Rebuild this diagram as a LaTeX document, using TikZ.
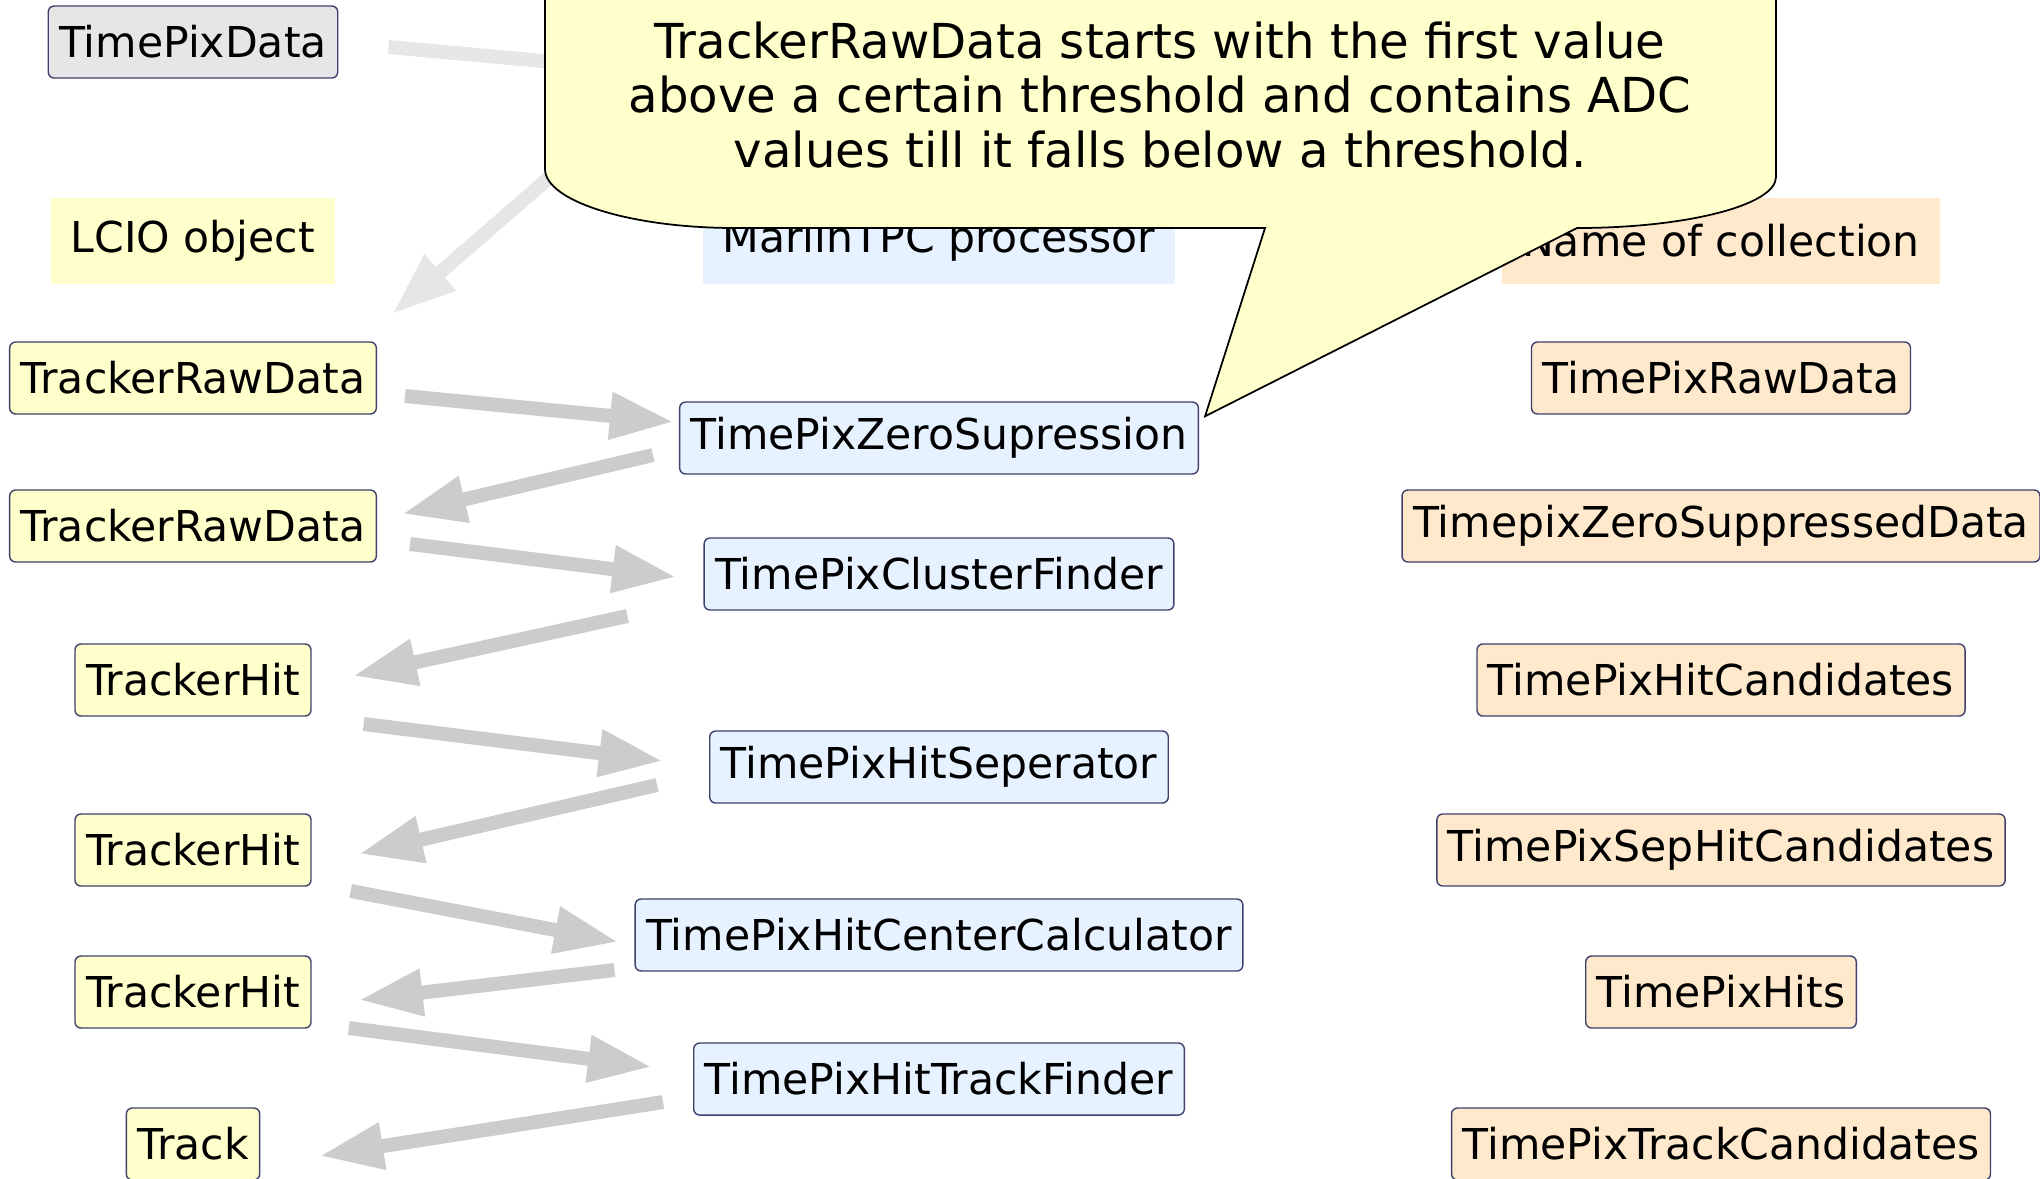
\documentclass[tikz,border=0pt]{standalone}
\usepackage{fontspec}
\setmainfont{DejaVu Sans}
\usepackage{tikz}
\usetikzlibrary{arrows.meta}
\definecolor{lcioyellow}{RGB}{255,255,204}
\definecolor{procblue}{RGB}{230,242,255}
\definecolor{collorange}{RGB}{255,233,204}
\definecolor{datagray}{RGB}{230,230,230}
\definecolor{boxline}{RGB}{64,64,110}
\definecolor{flowgray}{RGB}{204,204,204}
\tikzstyle{flow}=[draw=flowgray, line width=0.14cm, -{Triangle[length=0.64cm,width=0.44cm]}]
\newcommand{\boxfont}{\fontsize{12.1}{14}\selectfont}

\begin{document}
\begin{tikzpicture}[x=0.01cm, y=-0.01cm]
            \tikzset {
                basic node/.style={
                        draw=boxline,
                        line width=0.4pt,
                        font=\boxfont,
                        rounded corners=1.7pt,
                        inner xsep=0.11cm,
                        minimum height=0.72cm,
                        fill=lcioyellow
                    },
                legend node/.style={
                        font=\boxfont,
                        inner xsep=0.2cm,
                        minimum height=0.86cm
                    }}

            \useasboundingbox (0,0) rectangle (2040,1178);
            \clip (0,0) rectangle (2040,1178);

            % legend
            \node[legend node, fill=lcioyellow] (lcio) at (193,241) {LCIO object};
            \node[legend node, fill=procblue] (marlin) at (939,241) {MarlinTPC processor};
            \node[legend node, fill=collorange] (colname) at (1721,241) {Name of collection};

            % LCIO objects
            \node[basic node, fill=datagray] (tpdata) at (193,42) {TimePixData};
            \node[basic node] (trd1) at (193,378) {TrackerRawData};
            \node[basic node] (trd2) at (193,526) {TrackerRawData};
            \node[basic node] (hit1) at (193,680) {TrackerHit};
            \node[basic node] (hit2) at (193,850) {TrackerHit};
            \node[basic node] (hit3) at (193,992) {TrackerHit};
            \node[basic node] (track) at (193,1144) {Track};

            % processors
            \node[basic node, fill=procblue] (zerosup) at (939,438) {TimePixZeroSupression};
            \node[basic node, fill=procblue] (cluster) at (939,574) {TimePixClusterFinder};
            \node[basic node, fill=procblue] (hitsep) at (939,767) {TimePixHitSeperator};
            \node[basic node, fill=procblue] (hitcenter) at (939,935) {TimePixHitCenterCalculator};
            \node[basic node, fill=procblue] (trackfinder) at (939,1079) {TimePixHitTrackFinder};

            % collections
            \node[basic node, fill=collorange] (rawcol) at (1721,378) {TimePixRawData};
            \node[basic node, fill=collorange] (zerocol) at (1721,526) {TimepixZeroSuppressedData};
            \node[basic node, fill=collorange] (hitcandcol) at (1721,680) {TimePixHitCandidates};
            \node[basic node, fill=collorange] (sepcol) at (1721,850) {TimePixSepHitCandidates};
            \node[basic node, fill=collorange] (hitscol) at (1721,992) {TimePixHits};
            \node[basic node, fill=collorange] (trackcol) at (1721,1144) {TimePixTrackCandidates};

            % data flow
            \coordinate (hiddenin) at (720,77);
            \coordinate (hiddenout) at (627,110);
            \draw[flow, draw=datagray] ([shift={(50,5)}]tpdata.east) -- (hiddenin);
            \draw[flow, draw=datagray] (hiddenout) -- ([shift={(15,-27)}]trd1.north east);
            \draw[flow] ([shift={(28,18)}]trd1.east) -- ([shift={(-5,-16)}]zerosup.west);
            \draw[flow] ([shift={(-26,17)}]zerosup.west) -- ([shift={(25,-12)}]trd2.east);
            \draw[flow] ([shift={(33,18)}]trd2.east) -- ([shift={(-27,3)}]cluster.west);
            \draw[flow] ([shift={(-76,42)}]cluster.west) -- ([shift={(41,-4)}]hit1.east);
            \draw[flow] ([shift={(52,44)}]hit1.east) -- ([shift={(-46,-6)}]hitsep.west);
            \draw[flow] ([shift={(-52,18)}]hitsep.west) -- ([shift={(47,4)}]hit2.east);
            \draw[flow] ([shift={(39,41)}]hit2.east) -- ([shift={(-16,7)}]hitcenter.west);
            \draw[flow] ([shift={(-20,35)}]hitcenter.west) -- ([shift={(47,8)}]hit3.east);
            \draw[flow] ([shift={(37,36)}]hit3.east) -- ([shift={(-41,-12)}]trackfinder.west);
            \draw[flow] ([shift={(-30,23)}]trackfinder.west) -- ([shift={(59,12)}]track.east);

            % note
            \coordinate (notetip) at ([shift={(6,15)}]zerosup.north east);
            \path[draw=black, line width=0.5pt, fill=lcioyellow]
                (545,-120) -- (545,169) .. controls (545,201) and (630,228) .. (735,228)
                -- (1265,228) -- (notetip) -- (1577,228)
                .. controls (1687,228) and (1776,205) .. (1776,177) -- (1776,-120) -- cycle;
            \node[font=\fontsize{13.7}{15.6}\selectfont, align=center] (note) at (1160,95)
                {TrackerRawData starts with the first value\\above a certain threshold and contains ADC\\values till it falls below a threshold.};
\end{tikzpicture}
\end{document}
